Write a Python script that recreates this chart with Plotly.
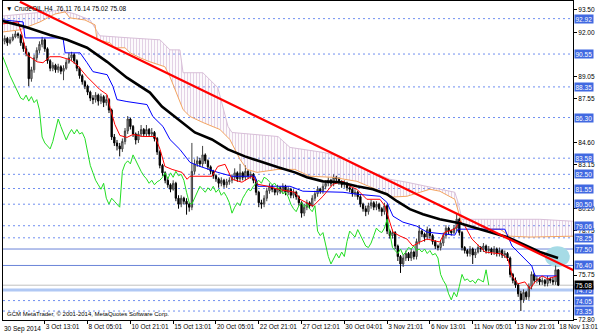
import plotly.graph_objects as go

# ---------------- candle data (H4 bars, index 0 = first bar) ----------------
opens = [
91.2, 91.4, 91.6, 91.3, 91.5, 91.7, 91.9, 91.8, 91.3, 90.9,
90.6, 88.9, 89.5, 90.3, 90.8, 91.2, 91.5, 90.9, 90.1, 89.6,
89.8, 89.5, 89.7, 89.4, 89.6, 90.0, 90.3, 90.5, 90.1, 89.6,
89.1, 88.7, 88.4, 88.0, 87.6, 87.5, 87.8, 87.4, 87.7, 87.3,
87.5, 86.8, 85.0, 84.6, 84.4, 84.2, 84.7, 85.4, 86.2, 85.7,
85.2, 84.8, 85.2, 85.5, 85.2, 85.5, 85.2, 85.3, 84.9, 84.0,
83.1, 82.6, 82.1, 81.8, 81.5, 81.9, 80.9, 80.5, 80.9, 80.7,
80.5, 80.3, 82.7, 83.2, 83.4, 83.2, 83.8, 83.4, 83.0, 82.7,
82.4, 82.2, 81.9, 82.1, 81.8, 82.0, 82.1, 82.3, 82.6, 82.2,
82.6, 82.3, 82.7, 82.4, 82.5, 82.1, 81.3, 80.6, 80.5, 80.9,
81.4, 81.7, 81.5, 81.3, 81.6, 81.4, 81.7, 81.3, 81.5, 81.1,
81.3, 81.0, 80.6, 79.9, 80.3, 80.6, 80.4, 80.9, 81.2, 81.5,
81.4, 81.7, 81.9, 82.1, 81.9, 82.3, 82.2, 82.0, 81.8, 81.9,
81.6, 81.5, 81.2, 81.3, 81.0, 80.5, 80.2, 80.0, 80.4, 80.6,
80.3, 80.5, 80.2, 80.0, 80.4, 78.7, 78.4, 78.6, 77.7, 77.0,
76.5, 76.9, 77.2, 76.9, 77.3, 77.0, 78.0, 78.7, 78.5, 78.3,
78.8, 78.4, 78.0, 77.7, 77.6, 77.9, 78.4, 78.9, 78.7, 78.6,
78.9, 79.5, 78.6, 77.6, 77.4, 77.2, 77.5, 77.1, 77.3, 77.6,
77.5, 77.7, 77.4, 77.5, 77.3, 77.5, 77.2, 77.4, 77.1, 77.2,
76.9, 75.8, 75.4, 75.1, 74.5, 74.1, 74.6, 74.3, 75.0, 75.8,
75.4, 75.5, 75.3, 75.4, 75.2, 75.5, 75.4, 75.3, 76.11]
highs = [
91.6, 91.8, 91.7, 91.7, 91.9, 92.1, 92.0, 91.9, 91.4, 91.1,
90.7, 89.7, 90.5, 91.0, 91.4, 91.7, 91.6, 91.0, 90.2, 90.0,
89.9, 89.9, 89.8, 89.8, 90.2, 90.6, 90.7, 90.6, 90.2, 89.7,
89.2, 88.8, 88.5, 88.1, 87.8, 88.0, 87.9, 87.9, 87.8, 87.8,
87.6, 86.9, 85.2, 84.8, 84.6, 84.9, 85.6, 86.4, 86.3, 85.8,
85.3, 85.4, 85.8, 85.6, 85.8, 85.6, 85.6, 85.4, 85.0, 84.1,
83.2, 82.7, 82.3, 81.9, 82.1, 82.0, 81.1, 81.1, 81.0, 80.9,
80.6, 84.6, 83.5, 83.7, 83.6, 84.4, 83.9, 83.5, 83.1, 82.8,
82.5, 82.3, 82.3, 82.2, 82.2, 82.3, 82.5, 82.9, 82.7, 83.2,
82.7, 83.1, 82.8, 82.7, 82.6, 82.2, 81.4, 80.8, 81.1, 81.6,
81.9, 81.8, 81.6, 81.8, 81.7, 81.9, 81.8, 81.7, 81.6, 81.5,
81.4, 81.1, 80.7, 80.5, 80.8, 80.7, 81.1, 81.4, 81.7, 81.6,
81.9, 82.1, 82.3, 82.2, 82.5, 82.4, 82.3, 82.1, 82.1, 82.0,
81.7, 81.6, 81.5, 81.4, 81.1, 80.6, 80.4, 80.6, 80.8, 80.7,
80.7, 80.6, 80.3, 80.6, 80.5, 78.8, 78.8, 78.7, 77.8, 77.1,
77.1, 77.4, 77.3, 77.5, 77.4, 78.2, 79.1, 78.8, 78.6, 79.0,
78.9, 78.5, 78.1, 77.8, 78.1, 78.6, 79.1, 79.0, 78.8, 79.1,
79.9, 79.6, 78.7, 77.7, 77.5, 77.7, 77.6, 77.5, 77.8, 77.7,
77.9, 77.8, 77.7, 77.6, 77.7, 77.6, 77.6, 77.5, 77.4, 77.3,
77.0, 75.9, 75.6, 75.2, 74.7, 74.8, 74.7, 75.2, 76.0, 75.9,
75.7, 75.6, 75.6, 75.5, 75.7, 75.6, 75.6, 76.4, 76.14]
lows = [
91.0, 91.2, 91.1, 91.2, 91.4, 91.6, 91.6, 91.1, 90.7, 90.4,
88.4, 88.7, 89.3, 90.1, 90.6, 91.0, 90.7, 89.9, 89.4, 89.4,
89.3, 89.3, 89.2, 88.8, 89.5, 89.9, 90.1, 89.9, 89.4, 88.9,
88.5, 88.2, 87.8, 87.4, 87.2, 87.3, 87.1, 87.2, 87.0, 87.1,
86.6, 84.8, 84.4, 84.1, 83.7, 84.0, 84.5, 85.2, 85.5, 85.0,
84.5, 84.6, 85.0, 85.0, 85.0, 85.0, 85.0, 84.7, 83.8, 82.9,
82.4, 81.9, 81.6, 81.3, 81.4, 80.7, 80.2, 80.3, 80.5, 79.8,
80.0, 80.1, 82.5, 83.0, 83.0, 83.0, 83.2, 82.8, 82.5, 82.2,
82.0, 81.6, 81.7, 81.6, 81.6, 81.8, 81.9, 82.1, 82.0, 82.0,
82.1, 82.1, 82.2, 82.2, 81.9, 81.1, 80.3, 80.2, 80.3, 80.7,
81.2, 81.3, 81.1, 81.1, 81.2, 81.2, 81.1, 81.1, 80.9, 80.9,
80.8, 80.4, 79.6, 79.7, 80.1, 80.2, 80.3, 80.7, 81.0, 81.2,
81.2, 81.5, 81.7, 81.7, 81.7, 82.0, 81.8, 81.6, 81.6, 81.4,
81.3, 81.0, 81.0, 80.8, 80.3, 80.0, 79.7, 79.8, 80.2, 80.1,
80.1, 80.0, 79.7, 79.8, 78.5, 78.2, 78.2, 77.5, 76.7, 75.9,
76.3, 76.7, 76.7, 76.7, 76.8, 76.8, 77.8, 78.3, 78.0, 78.1,
78.2, 77.8, 77.5, 77.4, 77.4, 77.7, 78.2, 78.5, 78.4, 78.5,
78.7, 78.4, 77.4, 77.2, 77.0, 77.0, 76.5, 76.9, 77.2, 77.3,
77.3, 77.2, 77.2, 77.1, 77.1, 77.0, 77.0, 76.9, 76.9, 76.7,
75.6, 75.2, 74.9, 74.3, 73.35, 73.9, 74.1, 74.1, 74.8, 75.2,
75.2, 75.1, 75.1, 75.0, 75.0, 75.2, 75.1, 75.1, 75.02]
closes = [
91.4, 91.6, 91.3, 91.5, 91.7, 91.9, 91.8, 91.3, 90.9, 90.6,
88.9, 89.5, 90.3, 90.8, 91.2, 91.5, 90.9, 90.1, 89.6, 89.8,
89.5, 89.7, 89.4, 89.6, 90.0, 90.3, 90.5, 90.1, 89.6, 89.1,
88.7, 88.4, 88.0, 87.6, 87.5, 87.8, 87.4, 87.7, 87.3, 87.5,
86.8, 85.0, 84.6, 84.4, 84.2, 84.7, 85.4, 86.2, 85.7, 85.2,
84.8, 85.2, 85.5, 85.2, 85.5, 85.2, 85.3, 84.9, 84.0, 83.1,
82.6, 82.1, 81.8, 81.5, 81.9, 80.9, 80.5, 80.9, 80.7, 80.5,
80.3, 82.7, 83.2, 83.4, 83.2, 83.8, 83.4, 83.0, 82.7, 82.4,
82.2, 81.9, 82.1, 81.8, 82.0, 82.1, 82.3, 82.6, 82.2, 82.6,
82.3, 82.7, 82.4, 82.5, 82.1, 81.3, 80.6, 80.5, 80.9, 81.4,
81.7, 81.5, 81.3, 81.6, 81.4, 81.7, 81.3, 81.5, 81.1, 81.3,
81.0, 80.6, 79.9, 80.3, 80.6, 80.4, 80.9, 81.2, 81.5, 81.4,
81.7, 81.9, 82.1, 81.9, 82.3, 82.2, 82.0, 81.8, 81.9, 81.6,
81.5, 81.2, 81.3, 81.0, 80.5, 80.2, 80.0, 80.4, 80.6, 80.3,
80.5, 80.2, 80.0, 80.4, 78.7, 78.4, 78.6, 77.7, 77.0, 76.5,
76.9, 77.2, 76.9, 77.3, 77.0, 78.0, 78.7, 78.5, 78.3, 78.8,
78.4, 78.0, 77.7, 77.6, 77.9, 78.4, 78.9, 78.7, 78.6, 78.9,
79.5, 78.6, 77.6, 77.4, 77.2, 77.5, 77.1, 77.3, 77.6, 77.5,
77.7, 77.4, 77.5, 77.3, 77.5, 77.2, 77.4, 77.1, 77.2, 76.9,
75.8, 75.4, 75.1, 74.5, 74.1, 74.6, 74.3, 75.0, 75.8, 75.4,
75.5, 75.3, 75.4, 75.2, 75.5, 75.4, 75.3, 76.11, 75.08]
bars = list(range(len(closes)))

# ---------------- indicators (bar index, price) ----------------
ma_x = [0, 8.6, 17.9, 24.3, 31.8, 39.3, 46.7, 55.3, 59.8, 65.8, 72.1, 78.5, 84.5, 90.8,
        97.2, 103.2, 109.5, 114.0, 120.0, 126.4, 132.7, 138.7, 143.9, 147.7, 152.5,
        157.4, 163.7, 171.2, 178.7, 188.8, 194.8, 201.1, 207.9]
ma_y = [92.77, 92.37, 91.83, 91.51, 90.97, 90.03, 88.97, 87.97, 87.03, 86.17, 85.30, 84.83,
        84.17, 83.70, 83.30, 82.97, 82.63, 82.30, 82.03, 81.97, 81.70, 81.50, 81.17, 80.70,
        80.17, 79.83, 79.50, 79.23, 78.83, 78.30, 77.83, 77.30, 76.90]

tenkan_x = [0.4, 6.0, 7.5, 9.3, 13.1, 15.3, 17.9, 21.7, 25.4, 28.0, 31.8, 36.6, 39.3, 40.4,
            42.2, 44.1, 46.7, 49.0, 52.7, 57.2, 59.1, 60.9, 63.6, 67.3, 69.2, 70.3, 78.5,
            80.7, 83.4, 86.0, 89.7, 93.5, 95.7, 99.4, 103.2, 109.5, 111.4, 116.3, 120.0,
            123.7, 127.5, 130.1, 132.7, 136.4, 141.3, 143.2, 145.0, 146.2, 148.8, 151.4,
            153.6, 156.3, 158.9, 163.7, 165.6, 169.3, 171.2, 173.1, 175.7, 180.6, 186.9,
            189.2, 190.7, 192.9, 195.5, 197.4, 199.3, 201.9, 204.1, 207.5]
tenkan_y = [92.57, 92.70, 91.83, 90.50, 90.03, 89.97, 90.37, 90.37, 90.17, 89.83, 89.03,
            88.17, 87.83, 86.97, 85.83, 85.10, 84.97, 85.17, 85.03, 85.03, 84.17, 83.03,
            82.83, 82.63, 82.17, 82.37, 82.37, 83.03, 83.17, 82.17, 81.97, 82.37, 81.83,
            81.70, 81.50, 81.30, 80.83, 80.37, 81.03, 81.83, 82.03, 81.70, 81.50, 80.83,
            80.83, 80.37, 79.30, 78.63, 78.37, 78.17, 77.70, 77.97, 78.17, 77.97, 78.63,
            78.83, 79.37, 79.03, 78.17, 77.30, 77.17, 76.83, 75.70, 75.17, 75.30, 74.83,
            75.30, 75.70, 75.50, 75.70]

kijun_x = [0.4, 7.9, 8.6, 22.8, 23.6, 29.2, 31.8, 34.0, 39.3, 41.5, 43.0, 46.7, 54.2, 56.4,
           60.2, 62.8, 66.5, 70.3, 74.0, 77.0, 80.7, 86.0, 94.6, 95.7, 107.7, 112.5, 127.5,
           132.7, 141.3, 143.9, 146.2, 149.9, 155.1, 158.9, 169.3, 170.5, 188.0, 190.7,
           194.4, 198.1, 199.3, 207.5]
kijun_y = [92.83, 92.70, 91.63, 91.63, 90.63, 90.63, 89.97, 89.37, 89.17, 88.37, 87.50,
           87.37, 87.17, 86.37, 85.70, 84.83, 84.17, 83.30, 83.03, 82.83, 82.63, 82.37,
           82.37, 81.70, 81.70, 81.37, 81.30, 81.17, 81.03, 80.63, 79.70, 79.30, 79.03,
           78.63, 78.43, 78.83, 78.83, 77.70, 77.03, 76.37, 75.70, 75.70]

span_b_x = [0.4, 8.6, 16.1, 21.7, 27.3, 32.9, 36.6, 47.9, 59.1, 62.8, 66.5, 67.7, 75.1,
            80.7, 82.6, 84.5, 86.0, 103.2, 107.7, 120.0, 126.4, 132.7, 138.7, 145.0,
            151.4, 163.7, 169.3, 170.5, 172.0, 201.1, 213.5]
span_b_y = [93.10, 93.23, 93.37, 93.50, 93.23, 92.83, 91.77, 91.63, 91.50, 90.83, 90.83,
            89.30, 89.30, 88.30, 87.03, 85.70, 85.30, 85.03, 84.30, 83.97, 83.70, 83.03,
            82.63, 82.17, 81.97, 81.50, 81.30, 80.63, 79.49, 79.49, 79.36]
span_a_x = [0.4, 6.7, 14.2, 19.8, 23.6, 25.4, 31.0, 34.8, 35.5, 40.4, 42.2, 46.0, 47.9,
            51.6, 55.3, 60.9, 62.8, 67.7, 70.3, 75.1, 81.5, 85.2, 89.0, 91.6, 95.3, 103.2,
            109.5, 115.1, 123.7, 132.7, 142.4, 145.0, 151.4, 160.0, 163.7, 169.3, 172.0,
            178.7, 186.2, 189.9, 197.4, 213.5]
span_a_y = [92.03, 92.17, 92.70, 93.23, 93.37, 92.97, 92.83, 92.50, 91.50, 91.30, 90.97,
            90.97, 90.63, 90.30, 90.03, 89.70, 89.03, 86.83, 86.37, 85.97, 85.50, 84.83,
            83.50, 82.83, 82.63, 82.83, 82.83, 82.37, 82.30, 82.03, 81.30, 80.97, 81.03,
            81.50, 81.37, 80.83, 79.16, 78.83, 78.83, 78.36, 78.30, 78.36]

chikou_shift = 26

trend_x = [6.7, 214.0]
trend_y = [94.05, 76.05]

zone_x = [203.0, 212.3]
zone_y = [76.29, 77.69]

# ---------------- axes text ----------------
tick_index = [16, 32, 48, 64, 80, 96, 112, 128, 144, 160, 176, 192, 208]
tick_text = ["3 Oct 13:01", "8 Oct 05:01", "10 Oct 21:01", "15 Oct 13:01", "20 Oct 05:01",
             "22 Oct 21:01", "27 Oct 12:01", "30 Oct 04:01", "3 Nov 21:01", "6 Nov 13:01",
             "11 Nov 05:01", "13 Nov 21:01", "18 Nov 13:01"]
first_label = "30 Sep 2014"
y_ticks = [93.50, 92.00, 89.05, 87.55, 84.60, 83.15, 80.20, 78.75, 75.75, 72.80]

dotted_levels = [92.92, 90.55, 88.35, 86.30, 83.58, 82.50, 81.55, 80.50, 79.06, 78.25, 74.05, 73.35]
solid_levels = [77.50, 76.40]
support_levels = [74.75]
bid_level = 75.08
title_text = "CrudeOIL,H4  76.11 76.14 75.02 75.08"
footer_text = "GCM MetaTrader, © 2001-2014, MetaQuotes Software Corp."

FONT = "Liberation Sans"
FS = 6.5

fig = go.Figure()

# cloud (hatched)
cloud_x = span_b_x + span_a_x[::-1]
cloud_y = span_b_y + span_a_y[::-1]
fig.add_trace(go.Scatter(x=cloud_x, y=cloud_y, fill="toself", mode="none",
                         fillcolor="rgba(0,0,0,0)",
                         fillpattern=dict(shape="|", fgcolor="#c7a3cb", size=3, solidity=0.4),
                         hoverinfo="skip"))
fig.add_trace(go.Scatter(x=span_b_x, y=span_b_y, mode="lines",
                         line=dict(color="#d8bfd8", width=1)))
fig.add_trace(go.Scatter(x=span_a_x, y=span_a_y, mode="lines",
                         line=dict(color="#f4a460", width=1)))

# candles
fig.add_trace(go.Candlestick(x=bars, open=opens, high=highs, low=lows, close=closes,
                             increasing=dict(line=dict(color="#404040", width=1), fillcolor="#b0b0b0"),
                             decreasing=dict(line=dict(color="#000000", width=1), fillcolor="#000000"),
                             whiskerwidth=0))

# ichimoku lines
fig.add_trace(go.Scatter(x=kijun_x, y=kijun_y, mode="lines", line=dict(color="#0000ff", width=1)))
fig.add_trace(go.Scatter(x=tenkan_x, y=tenkan_y, mode="lines", line=dict(color="#ff0000", width=1)))
fig.add_trace(go.Scatter(x=[b - chikou_shift for b in bars[chikou_shift:]],
                         y=closes[chikou_shift:], mode="lines",
                         line=dict(color="#22dd22", width=1)))

# moving average and trend line
fig.add_trace(go.Scatter(x=ma_x, y=ma_y, mode="lines", line=dict(color="#000000", width=2.6)))
fig.add_trace(go.Scatter(x=trend_x, y=trend_y, mode="lines", line=dict(color="#ff0000", width=2.2)))

shapes = []
for v in dotted_levels:
    shapes.append(dict(type="line", xref="paper", x0=0, x1=1, yref="y", y0=v, y1=v,
                       line=dict(color="#6f8ff0", width=1, dash="2px,3px"), layer="below"))
for v in solid_levels:
    shapes.append(dict(type="line", xref="paper", x0=0, x1=1, yref="y", y0=v, y1=v,
                       line=dict(color="#6a84d8", width=1), layer="below"))
for v in support_levels:
    shapes.append(dict(type="line", xref="paper", x0=0, x1=1, yref="y", y0=v, y1=v,
                       line=dict(color="#b0c8f4", width=3), layer="below"))
shapes.append(dict(type="line", xref="paper", x0=0, x1=1, yref="y", y0=bid_level, y1=bid_level,
                   line=dict(color="#c0c0c0", width=1), layer="below"))
shapes.append(dict(type="circle", xref="x", yref="y", x0=zone_x[0], x1=zone_x[1],
                   y0=zone_y[0], y1=zone_y[1], fillcolor="#a6dbe6", line=dict(width=0),
                   layer="below"))

annotations = []
for v in sorted(dotted_levels + solid_levels + support_levels, reverse=True):
    annotations.append(dict(x=1, xref="paper", xanchor="left", xshift=1, y=v, yref="y",
                            text=f"{v:.2f}", showarrow=False, bgcolor="#4169e1",
                            borderpad=0.5, font=dict(color="white", size=FS, family=FONT)))
annotations.append(dict(x=1, xref="paper", xanchor="left", xshift=1, y=bid_level, yref="y",
                        text=f"{bid_level:.2f}", showarrow=False, bgcolor="#000000",
                        borderpad=0.5, font=dict(color="white", size=FS, family=FONT)))
annotations.append(dict(x=0, xref="paper", xanchor="left", xshift=1, y=1, yref="paper",
                        yanchor="top", yshift=-2, text="▼ " + title_text, showarrow=False,
                        font=dict(color="black", size=FS, family=FONT)))
annotations.append(dict(x=0, xref="paper", xanchor="left", xshift=2, y=0, yref="paper",
                        yanchor="bottom", yshift=1, text=footer_text, showarrow=False,
                        font=dict(color="black", size=6, family=FONT)))
annotations.append(dict(x=0, xref="paper", xanchor="left", xshift=-1, y=0, yref="paper",
                        yanchor="top", yshift=-3, text=first_label, showarrow=False,
                        font=dict(color="black", size=FS, family=FONT)))

fig.update_layout(width=600, height=333, margin=dict(l=3, r=27, t=1, b=13),
                  paper_bgcolor="white", plot_bgcolor="white", showlegend=False,
                  font=dict(family=FONT, size=FS, color="black"),
                  shapes=shapes, annotations=annotations)
fig.update_xaxes(range=[0.37, 213.5], showgrid=False, zeroline=False, showline=True,
                 linecolor="black", linewidth=1, mirror=True, tickvals=tick_index,
                 ticktext=tick_text, ticks="outside", ticklen=3, tickcolor="black",
                 ticklabelposition="outside right", tickangle=0, automargin=False,
                 rangeslider_visible=False,
                 tickfont=dict(size=FS, family=FONT, color="black"))
fig.update_yaxes(range=[72.75, 94.10], side="right", showgrid=False, zeroline=False,
                 showline=True, linecolor="black", linewidth=1, mirror=True, automargin=False,
                 tickvals=y_ticks, ticktext=[f"{v:.2f}" for v in y_ticks], ticks="outside",
                 ticklen=3, tickcolor="black", tickfont=dict(size=FS, family=FONT, color="black"))

fig.write_html("out.html")
